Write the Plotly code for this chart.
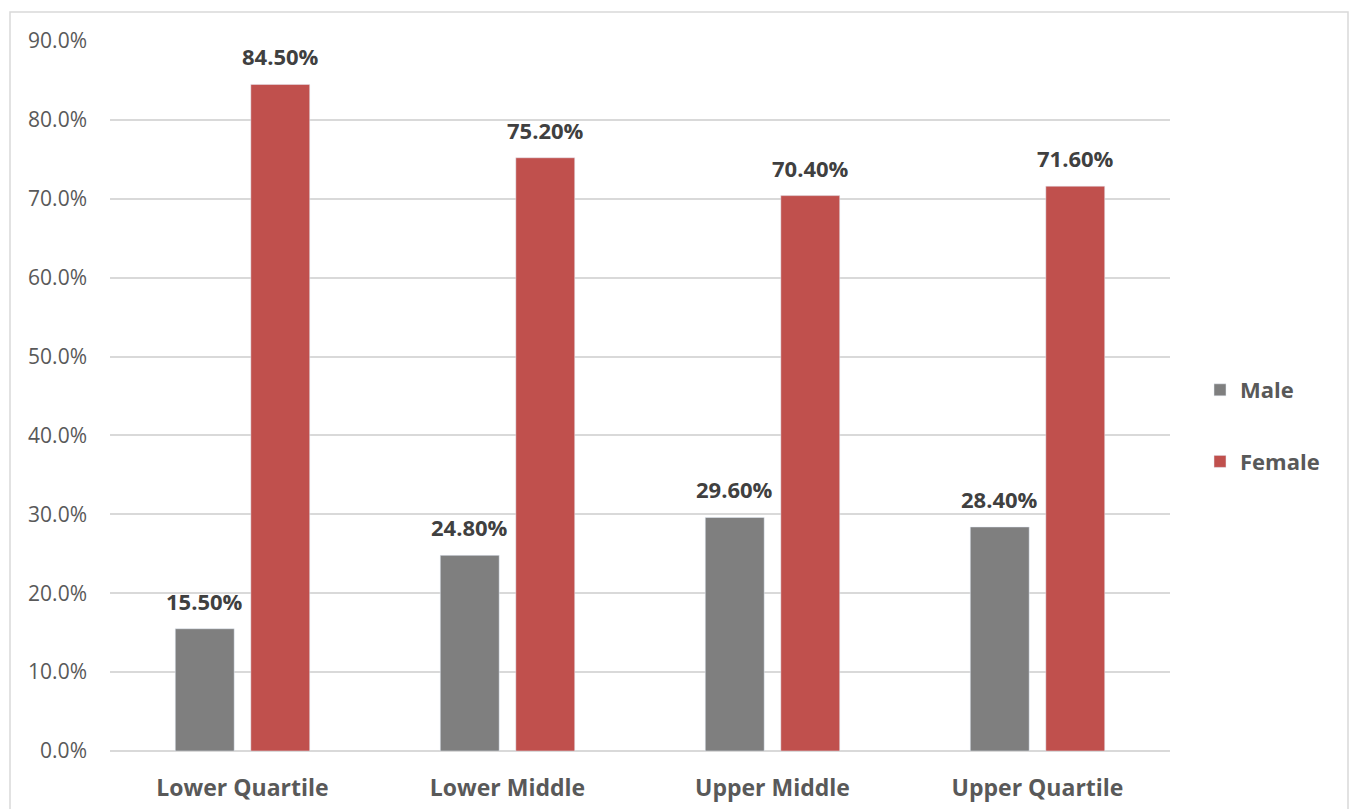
import plotly.graph_objects as go

categories = ["Lower Quartile", "Lower Middle", "Upper Middle", "Upper Quartile"]
male = [0.155, 0.248, 0.296, 0.284]
female = [0.845, 0.752, 0.704, 0.716]
y_ticks = [0, 0.1, 0.2, 0.3, 0.4, 0.5, 0.6, 0.7, 0.8, 0.9]

FONT = "Open Sans"
fig = go.Figure()
fig.add_trace(go.Bar(name="Male", x=categories, y=male, marker_color="#7f7f7f",
                     legendgroup="m"))
fig.add_trace(go.Bar(name="Female", x=categories, y=female, marker_color="#c0504d",
                     legendgroup="f"))

annotations = []
for vals, shift in ((male, -37.75), (female, 37.75)):
    for c, v in zip(categories, vals):
        annotations.append(dict(x=c, y=v, xref="x", yref="y", text=f"{v*100:.2f}%",
                                showarrow=False, xshift=shift, yshift=11, yanchor="bottom",
                                font=dict(family=FONT, size=22, color="#404040", weight="bold")))

fig.update_layout(
    width=1352, height=809,
    margin=dict(l=110, r=182, t=41, b=58, autoexpand=False),
    paper_bgcolor="white", plot_bgcolor="white",
    barmode="group", bargap=0.43, bargroupgap=0.22,
    font=dict(family=FONT, color="#595959"),
    annotations=annotations,
    showlegend=True,
    legend=dict(x=(1200 - 110) / 1060, y=(751 - 426) / 710, xanchor="left", yanchor="middle",
                font=dict(family=FONT, size=22, color="#595959", weight="bold"),
                traceorder="grouped", tracegroupgap=40, itemwidth=30),
    xaxis=dict(showgrid=False, showline=False, ticks="",
               tickfont=dict(family=FONT, size=23, color="#595959", weight="bold"),
               ticklabelstandoff=21),
    yaxis=dict(range=[0, 0.9], tickvals=y_ticks, tickformat=".1%",
               showgrid=True, gridcolor="#d9d9d9", gridwidth=1.5,
               zeroline=True, zerolinecolor="#d9d9d9", zerolinewidth=1.5,
               showline=False, ticks="",
               tickfont=dict(family=FONT, size=21, color="#595959"),
               ticklabelstandoff=22),
    shapes=[dict(type="rect", xref="paper", yref="paper",
                 x0=(10 - 110) / 1060, x1=(1348 - 110) / 1060,
                 y0=-0.2, y1=(751 - 12) / 710,
                 line=dict(color="#d9d9d9", width=1.5), fillcolor="rgba(0,0,0,0)",
                 layer="below")],
)

fig.write_html("out.html")
